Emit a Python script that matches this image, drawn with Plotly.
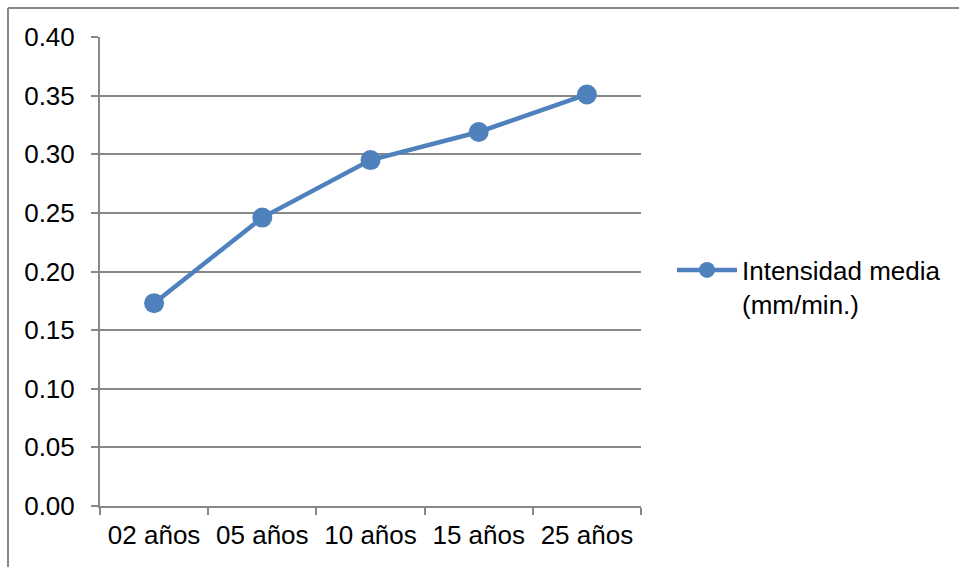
import plotly.graph_objects as go

# Return periods and mean rainfall intensity
periodos = ["02 años", "05 años", "10 años", "15 años", "25 años"]
intensidad = [0.173, 0.246, 0.295, 0.319, 0.351]
serie = "Intensidad media<br>(mm/min.)"

W, H = 959, 567
L, R, T, B = 100, 318, 37, 61
pw, ph = W - L - R, H - T - B

def px_x(x):
    return (x - L) / pw

def px_y(y):
    return (H - B - y) / ph

azul = "#4F81BD"
gris = "#888888"
fuente = dict(family="Liberation Sans, Arial, sans-serif", size=26, color="#000000")

fig = go.Figure()
fig.add_trace(go.Scatter(
    x=periodos, y=intensidad, name=serie, mode="lines+markers",
    line=dict(color=azul, width=4.5),
    marker=dict(color=azul, size=20, line=dict(width=0)),
))

fig.update_layout(
    width=W, height=H,
    margin=dict(l=L, r=R, t=T, b=B, autoexpand=False),
    paper_bgcolor="white", plot_bgcolor="white",
    font=fuente,
    showlegend=True,
    legend=dict(x=px_x(672), y=px_y(287), xanchor="left", yanchor="middle",
                valign="top", font=fuente, bgcolor="rgba(0,0,0,0)", borderwidth=0,
                itemwidth=60, tracegroupgap=0),
    xaxis=dict(
        type="category", range=[-0.5, 4.5],
        showline=True, linecolor=gris, linewidth=2,
        ticks="outside", tickson="boundaries", ticklen=7, tickwidth=2, tickcolor=gris,
        showgrid=False, zeroline=False, tickfont=fuente, ticklabelstandoff=5,
    ),
    yaxis=dict(
        range=[0, 0.4], dtick=0.05, tickformat=".2f",
        showline=True, linecolor=gris, linewidth=2,
        ticks="outside", ticklen=7, tickwidth=2, tickcolor=gris,
        showgrid=True, gridcolor=gris, gridwidth=2, zeroline=False,
        tickfont=fuente, ticklabelstandoff=11,
    ),
    shapes=[
        dict(type="line", xref="paper", yref="paper",
             x0=px_x(8), x1=px_x(W + 5), y0=px_y(8), y1=px_y(8),
             line=dict(color=gris, width=2)),
        dict(type="line", xref="paper", yref="paper",
             x0=px_x(8), x1=px_x(8), y0=px_y(8), y1=px_y(H + 5),
             line=dict(color=gris, width=2)),
    ],
)

fig.write_html("out.html")
